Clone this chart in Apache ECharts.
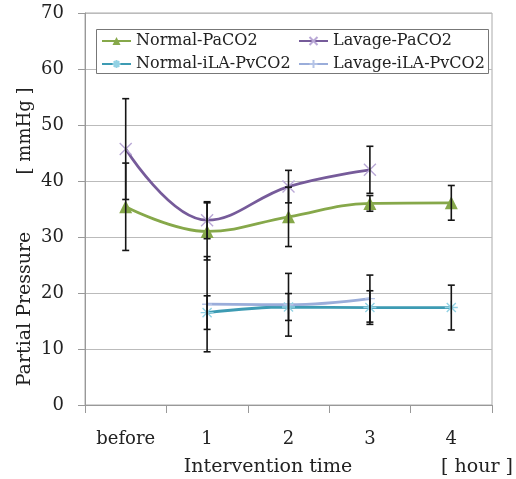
<!DOCTYPE html>
<html>
<head>
<meta charset="utf-8">
<script src="https://cdn.jsdelivr.net/npm/echarts@6/dist/echarts.min.js"></script>
<style>
  html, body { margin: 0; padding: 0; background: #fff; }
  #chart { width: 516px; height: 479px; }
</style>
</head>
<body>
<div id="chart"></div>
<script>
// chart data
const categories = ['before', '1', '2', '3', '4']
const yTicks = [0, 10, 20, 30, 40, 50, 60, 70]

const normalPaCO2 = [35.4, 31.0, 33.6, 36.0, 36.1]
const normalPaCO2Sd = [7.8, 5.1, 5.3, 1.4, 3.1]
const lavagePaCO2 = [45.7, 33.0, 39.0, 42.0, null]
const lavagePaCO2Sd = [9.0, 3.3, 2.9, 4.2, null]
const normalPvCO2 = [null, 16.5, 17.5, 17.4, 17.4]
const normalPvCO2Sd = [null, 3.0, 2.4, 3.0, 4.0]
const lavagePvCO2 = [null, 18.0, 17.9, 19.0, null]
const lavagePvCO2Sd = [null, 8.5, 5.6, 4.2, null]

const FONT = 'DejaVu Serif'
const TEXT = '#222'

const SYM_X = 'path://M0,0L10,10M0,10L10,0'
const SYM_STAR = 'path://M5,0L5,10M0,5L10,5M1.5,1.5L8.5,8.5M1.5,8.5L8.5,1.5'
const SYM_PLUS = 'path://M5,0L5,10M0,5L10,5'

function lineSeries(name, values, color, symbol, symbolSize, markColor, stroked) {
  return {
    type: 'line',
    name: name,
    data: values,
    smooth: 0.4,
    connectNulls: false,
    symbol: symbol,
    symbolSize: symbolSize,
    showSymbol: true,
    z: 3,
    lineStyle: { color: color, width: 2.8 },
    itemStyle: stroked
      ? { color: 'rgba(0,0,0,0)', borderColor: markColor, borderWidth: 1.4 }
      : { color: markColor, borderWidth: 0 },
    emphasis: { disabled: true }
  }
}

function errorSeries(name, values, sds) {
  let data = []
  values.forEach((v, i) => {
    if (v != null) data.push([i, v, sds[i]])
  })
  return {
    type: 'custom',
    name: name + ' SD',
    data: data,
    encode: { x: 0, y: 1 },
    z: 6,
    silent: true,
    renderItem(params, api) {
      const i = api.value(0)
      const v = api.value(1)
      const sd = api.value(2)
      const top = api.coord([i, v + sd])
      const bot = api.coord([i, v - sd])
      const w = 3.5
      const st = { stroke: '#151515', lineWidth: 1.6 }
      return {
        type: 'group',
        children: [
          { type: 'line', shape: { x1: top[0], y1: top[1], x2: bot[0], y2: bot[1] }, style: st },
          { type: 'line', shape: { x1: top[0] - w, y1: top[1], x2: top[0] + w, y2: top[1] }, style: st },
          { type: 'line', shape: { x1: bot[0] - w, y1: bot[1], x2: bot[0] + w, y2: bot[1] }, style: st }
        ]
      }
    }
  }
}

// one legend per column, the box is drawn as a graphic rect
function legendColumn(names, left) {
  return {
    data: names,
    orient: 'vertical',
    left: left, top: 33,
    padding: 0,
    itemGap: 7,
    itemWidth: 29, itemHeight: 10,
    textStyle: { fontFamily: FONT, fontSize: 16, color: TEXT },
    z: 8
  }
}

const chart = echarts.init(document.getElementById('chart'), null, { renderer: 'canvas' })

const option = {
  animation: false,
  backgroundColor: '#fff',
  grid: {
    left: 85, right: 24, top: 13, bottom: 74,
    show: true, borderColor: '#aaa', borderWidth: 1
  },
  legend: [
    legendColumn(['Normal-PaCO2', 'Normal-iLA-PvCO2'], 101),
    legendColumn(['Lavage-PaCO2', 'Lavage-iLA-PvCO2'], 298)
  ],
  xAxis: {
    type: 'category',
    data: categories,
    boundaryGap: true,
    axisLine: { lineStyle: { color: '#999', width: 1 } },
    axisTick: { show: true, length: 8, inside: false, lineStyle: { color: '#999' } },
    axisLabel: { fontFamily: FONT, fontSize: 18, color: TEXT, margin: 25 },
    splitLine: { show: false }
  },
  yAxis: {
    type: 'value',
    min: 0, max: 70, interval: 10,
    axisLine: { show: true, lineStyle: { color: '#999', width: 1 } },
    axisTick: { show: true, length: 7, lineStyle: { color: '#999' } },
    axisLabel: {
      fontFamily: FONT, fontSize: 18, color: TEXT, margin: 21,
      formatter: (v) => yTicks.indexOf(v) >= 0 ? String(v) : ''
    },
    splitLine: { show: true, lineStyle: { color: '#bbb', width: 1 } }
  },
  graphic: [
    { type: 'rect', z: 5, shape: { x: 96.5, y: 29.5, width: 392, height: 44 },
      style: { fill: '#fff', stroke: '#777', lineWidth: 1 } },
    { type: 'text', x: 25, y: 309, rotation: Math.PI / 2, z: 10,
      style: { text: 'Partial Pressure', font: '19px "DejaVu Serif"', fill: TEXT, align: 'center', verticalAlign: 'middle' } },
    { type: 'text', x: 25, y: 131, rotation: Math.PI / 2, z: 10,
      style: { text: '[ mmHg ]', font: '18px "DejaVu Serif"', fill: TEXT, align: 'center', verticalAlign: 'middle' } },
    { type: 'text', x: 268, y: 467, z: 10,
      style: { text: 'Intervention time', font: '19px "DejaVu Serif"', fill: TEXT, align: 'center', verticalAlign: 'middle' } },
    { type: 'text', x: 477, y: 467, z: 10,
      style: { text: '[ hour ]', font: '19px "DejaVu Serif"', fill: TEXT, align: 'center', verticalAlign: 'middle' } }
  ],
  series: [
    lineSeries('Normal-PaCO2', normalPaCO2, '#86a84a', 'triangle', 13, '#86a84a', false),
    lineSeries('Lavage-PaCO2', lavagePaCO2, '#765b9a', SYM_X, 12, '#b9a8d6', true),
    lineSeries('Normal-iLA-PvCO2', normalPvCO2, '#3d9bb3', SYM_STAR, 13, '#93d2e4', true),
    lineSeries('Lavage-iLA-PvCO2', lavagePvCO2, '#9aadda', SYM_PLUS, 10, '#b4c3e6', true),
    errorSeries('Normal-PaCO2', normalPaCO2, normalPaCO2Sd),
    errorSeries('Lavage-PaCO2', lavagePaCO2, lavagePaCO2Sd),
    errorSeries('Normal-iLA-PvCO2', normalPvCO2, normalPvCO2Sd),
    errorSeries('Lavage-iLA-PvCO2', lavagePvCO2, lavagePvCO2Sd)
  ]
}

chart.setOption(option)
</script>
</body>
</html>
